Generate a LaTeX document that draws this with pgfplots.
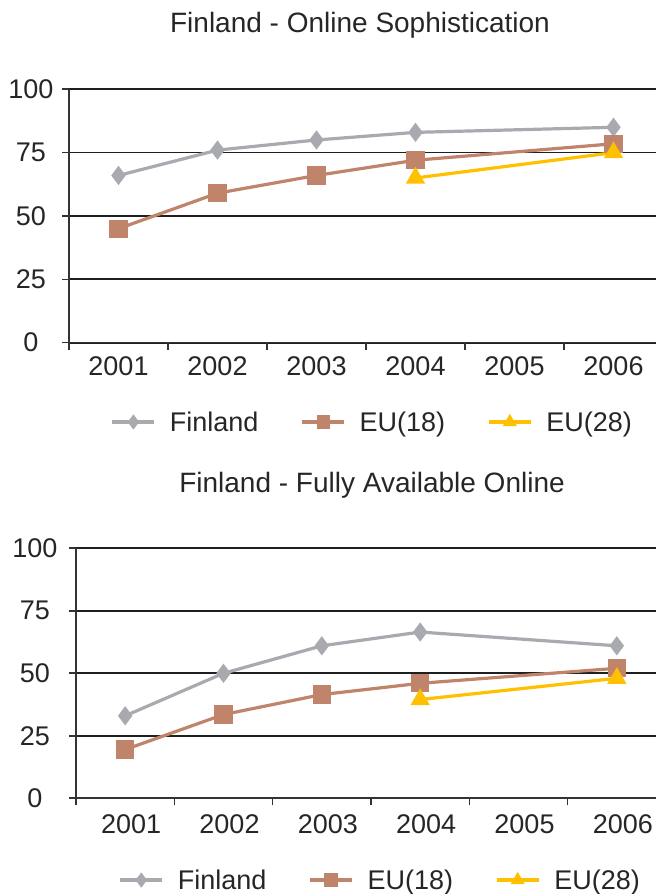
\documentclass[border=0pt]{standalone}
\usepackage{fontspec}
\setmainfont{Liberation Sans}
\usepackage{pgfplots}
\pgfplotsset{compat=1.18}
\definecolor{fin}{RGB}{168,170,175}
\definecolor{eua}{RGB}{192,132,106}
\definecolor{eub}{RGB}{255,192,0}
\newcommand{\fs}{\fontsize{27bp}{32bp}\selectfont}
\pgfplotsset{
  mystyle/.style={
    scale only axis,
    anchor=south west,
    xmin=0.5, xmax=6.5,
    ymin=0, ymax=100,
    axis x line*=bottom, axis y line*=left,
    axis line style={line width=1.6bp, color=black!80},
    xtick={0.5,1.5,...,6.5},
    x tick label as interval,
    xticklabels={2001,2002,2003,2004,2005,2006},
    ytick={0,25,50,75,100},
    ymajorgrids,
    major grid style={line width=1.7bp, color=black!88},
    tick align=outside,
    major tick length=7bp,
    tick style={line width=1.6bp, color=black!80},
    tick label style={font=\fs, text=black!85},
    /pgf/number format/assume math mode=true,
    clip=false,
    legend columns=3,
    legend style={draw=none, fill=none, inner sep=0pt, font=\fs, text=black!85,
      /tikz/every odd column/.append style={column sep=12bp},
      /tikz/every even column/.append style={column sep=40bp}},
    legend image code/.code={\draw[mark size=5bp, mark repeat=2, mark phase=2] plot coordinates {(0bp,0bp) (21bp,0bp) (42bp,0bp)};},
  },
  finstyle/.style={color=fin, line width=3.2bp, mark=diamond*, mark size=7bp},
  euastyle/.style={color=eua, line width=3.2bp, mark=square*, mark size=7.5bp},
  eubstyle/.style={color=eub, line width=3.2bp, mark=triangle*, mark size=8bp},
}
\begin{document}
\begin{tikzpicture}
\useasboundingbox (0,0) rectangle (656bp,894bp);
\node[anchor=base, text=black!85, font=\fontsize{28bp}{32bp}\selectfont] at (360bp,861bp) {Finland - Online Sophistication};
\node[anchor=base, text=black!85, font=\fontsize{28bp}{32bp}\selectfont] at (372bp,401bp) {Finland - Fully Available Online};
\begin{axis}[mystyle,
  at={(69bp,551.3bp)}, width=594bp, height=253.4bp,
  yticklabel style={anchor=center, xshift=-31bp},
  xticklabel style={yshift=-3bp},
  legend style={at={(0.07,-0.313)}, anchor=west},
]
\addplot[finstyle] coordinates {(1,66) (2,76) (3,80) (4,83) (6,85)};
\addplot[euastyle] coordinates {(1,45) (2,59) (3,66) (4,72) (6,78.5)};
\addplot[eubstyle] coordinates {(4,65) (6,75)};
\legend{Finland,EU(18),EU(28)}
\end{axis}
\begin{axis}[mystyle,
  at={(76bp,95.7bp)}, width=590bp, height=250bp,
  yticklabel style={anchor=center, xshift=-34bp},
  xticklabel style={xshift=6bp, yshift=-6bp},
  legend style={at={(0.072,-0.327)}, anchor=west},
]
\addplot[finstyle] coordinates {(1,33) (2,50) (3,61) (4,66.5) (6,61)};
\addplot[euastyle] coordinates {(1,19.5) (2,33.5) (3,41.5) (4,46) (6,52)};
\addplot[eubstyle] coordinates {(4,39.5) (6,48)};
\legend{Finland,EU(18),EU(28)}
\end{axis}
\end{tikzpicture}
\end{document}
